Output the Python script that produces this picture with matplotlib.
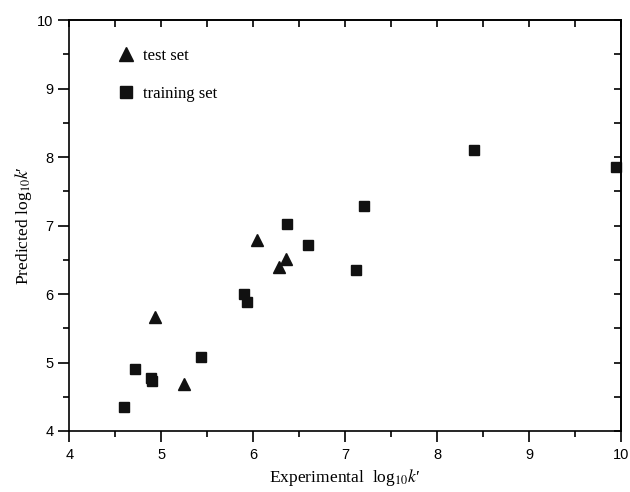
import matplotlib
matplotlib.use("Agg")
import matplotlib.pyplot as plt
from matplotlib.ticker import MultipleLocator

# training set (squares)
train_x = [4.59, 4.71, 4.89, 4.90, 5.43, 5.90, 5.93, 6.37, 6.60, 7.12, 7.20, 8.40, 9.95]
train_y = [4.35, 4.91, 4.77, 4.73, 5.08, 6.00, 5.88, 7.03, 6.71, 6.35, 7.28, 8.10, 7.85]

# test set (triangles)
test_x = [4.93, 5.25, 6.04, 6.28, 6.36]
test_y = [5.67, 4.68, 6.79, 6.39, 6.51]

plt.rcParams['mathtext.fontset'] = 'stix'

fig = plt.figure(figsize=(6.3, 4.92), dpi=100)
ax = fig.add_axes([0.110, 0.124, 0.8757, 0.835])

ax.plot(test_x, test_y, linestyle='none', marker='^', color='#111111',
        markersize=8, label='test set', clip_on=False)
ax.plot(train_x, train_y, linestyle='none', marker='s', color='#111111',
        markersize=6.5, label='training set', clip_on=False)

ax.set_xlim(4, 10)
ax.set_ylim(4, 10)
for axis in (ax.xaxis, ax.yaxis):
    axis.set_major_locator(MultipleLocator(1))
    axis.set_minor_locator(MultipleLocator(0.5))

# bottom/left ticks point out, labels in a sans font
ax.tick_params(which='both', direction='out', top=False, right=False,
               labelfontfamily='Liberation Sans', labelsize=10.5, width=1.2)
ax.tick_params(which='major', length=8)
ax.tick_params(which='minor', length=4.5)
ax.tick_params(axis='x', which='major', pad=4)

# top/right mirrored ticks point in
top = ax.secondary_xaxis('top')
right = ax.secondary_yaxis('right')
for sec, sax in ((top, top.xaxis), (right, right.yaxis)):
    sax.set_major_locator(MultipleLocator(1))
    sax.set_minor_locator(MultipleLocator(0.5))
    sec.tick_params(which='both', direction='in', length=5, width=1.2,
                    labeltop=False, labelright=False)
    for sp in sec.spines.values():
        sp.set_linewidth(1.2)

for sp in ax.spines.values():
    sp.set_linewidth(1.2)

ax.set_xlabel("Experimental  log$_{10}$$k$\u2032", family='Liberation Serif', fontsize=12.6, labelpad=4)
ax.set_ylabel("Predicted log$_{10}$$k$\u2032", family='Liberation Serif', fontsize=12.6, labelpad=2)

leg = ax.legend(loc='upper left', bbox_to_anchor=(0.06, 0.968), frameon=False,
                prop={'family': 'Liberation Serif', 'size': 12},
                handletextpad=0.55, labelspacing=1.3, markerscale=1.3,
                handlelength=1.0)

fig.savefig('out.png', dpi=100)
